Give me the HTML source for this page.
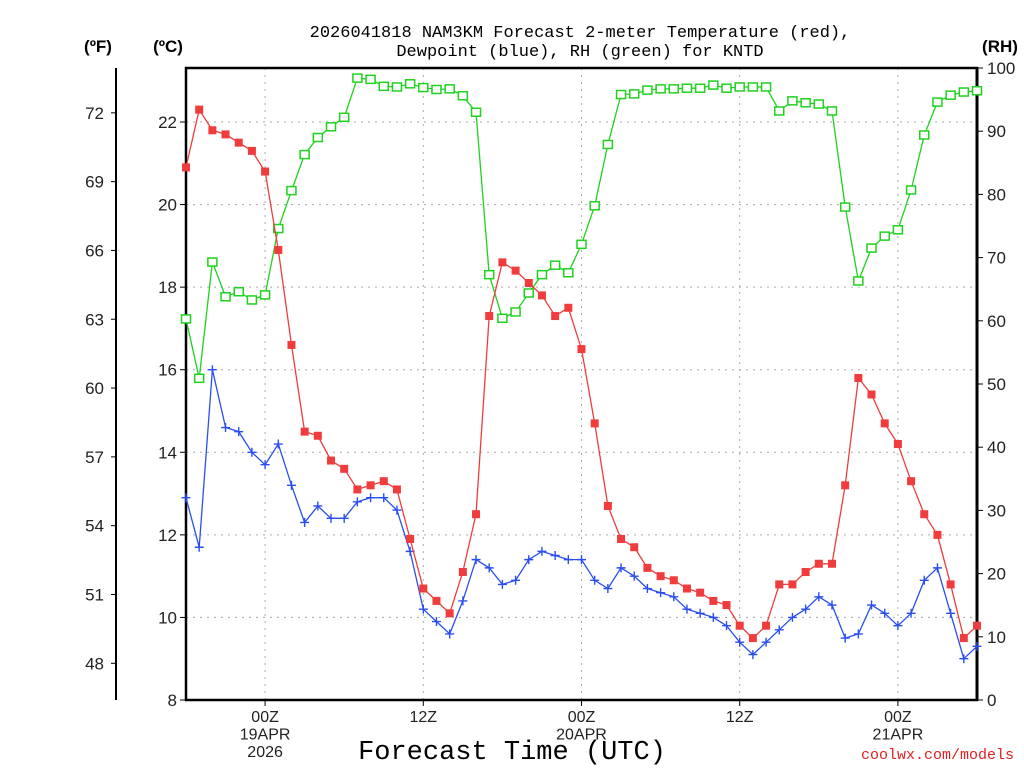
<!DOCTYPE html>
<html><head><meta charset="utf-8"><style>
body{margin:0;background:#fff;}
svg{display:block;}
text{font-family:"Liberation Sans",sans-serif;}
</style></head><body>
<svg id="chart" width="1024" height="768" xmlns="http://www.w3.org/2000/svg">
<rect width="1024" height="768" fill="#fff"/>
<text x="580" y="37" text-anchor="middle" style="font-family:'Liberation Mono',monospace;font-size:17px">2026041818 NAM3KM Forecast 2-meter Temperature (red),</text>
<text x="580" y="56" text-anchor="middle" style="font-family:'Liberation Mono',monospace;font-size:17px">Dewpoint (blue), RH (green) for KNTD</text>
<text x="98" y="52" text-anchor="middle" font-weight="bold" font-size="17">(ºF)</text>
<text x="168" y="52" text-anchor="middle" font-weight="bold" font-size="17">(ºC)</text>
<text x="1000" y="52" text-anchor="middle" font-weight="bold" font-size="17">(RH)</text>
<g id="grid"></g>
<g id="axes"></g>
<g id="series"></g>
<text x="512" y="759" text-anchor="middle" style="font-family:'Liberation Mono',monospace;font-size:27px;">Forecast Time (UTC)</text>
<text x="1014" y="759" text-anchor="end" fill="#e02020" style="font-family:'Liberation Mono',monospace;font-size:15px">coolwx.com/models</text>
</svg>
<script>
const hours = [0,1,2,3,4,5,6,7,8,9,10,11,12,13,14,15,16,17,18,19,20,21,22,23,24,25,26,27,28,29,30,31,32,33,34,35,36,37,38,39,40,41,42,43,44,45,46,47,48,49,50,51,52,53,54,55,56,57,58,59,60];
const tempC = [20.9,22.3,21.8,21.7,21.5,21.3,20.8,18.9,16.6,14.5,14.4,13.8,13.6,13.1,13.2,13.3,13.1,11.9,10.7,10.4,10.1,11.1,12.5,17.3,18.6,18.4,18.1,17.8,17.3,17.5,16.5,14.7,12.7,11.9,11.7,11.2,11.0,10.9,10.7,10.6,10.4,10.3,9.8,9.5,9.8,10.8,10.8,11.1,11.3,11.3,13.2,15.8,15.4,14.7,14.2,13.3,12.5,12.0,10.8,9.5,9.8];
const dewC = [12.9,11.7,16.0,14.6,14.5,14.0,13.7,14.2,13.2,12.3,12.7,12.4,12.4,12.8,12.9,12.9,12.6,11.6,10.2,9.9,9.6,10.4,11.4,11.2,10.8,10.9,11.4,11.6,11.5,11.4,11.4,10.9,10.7,11.2,11.0,10.7,10.6,10.5,10.2,10.1,10.0,9.8,9.4,9.1,9.4,9.7,10.0,10.2,10.5,10.3,9.5,9.6,10.3,10.1,9.8,10.1,10.9,11.2,10.1,9.0,9.3];
const rh = [60.3,50.9,69.3,63.8,64.6,63.3,64.1,74.6,80.6,86.3,89.0,90.7,92.2,98.4,98.2,97.1,97.0,97.5,96.9,96.6,96.7,95.6,93.0,67.3,60.4,61.4,64.4,67.3,68.8,67.6,72.1,78.2,87.9,95.8,95.9,96.5,96.7,96.7,96.8,96.8,97.3,96.8,97.0,97.0,97.0,93.2,94.8,94.5,94.3,93.2,78.0,66.3,71.5,73.4,74.4,80.7,89.4,94.6,95.7,96.2,96.4];
const cTicks = [8,10,12,14,16,18,20,22];
const fTicks = [48,51,54,57,60,63,66,69,72];
const rhTicks = [0,10,20,30,40,50,60,70,80,90,100];
const timeTicks = [6,18,30,42,54];
const timeLabels = [["00Z","19APR","2026"],["12Z"],["00Z","20APR"],["12Z"],["00Z","21APR"]];

const L=186,R=977,T=68,B=700;
const xS = h => L + (h-0)/60*(R-L);
const yC = c => B - (c-8)/14*(B-122);
const yF = f => yC((f-32)*5/9);
const yRH = v => B - v/100*(B-T);
const NS="http://www.w3.org/2000/svg";
function mk(parent,tag,attrs){const e=document.createElementNS(NS,tag);for(const k in attrs)e.setAttribute(k,attrs[k]);parent.appendChild(e);return e;}
const grid=document.getElementById('grid'), axes=document.getElementById('axes'), ser=document.getElementById('series');

cTicks.forEach(c=>{
  const y=yC(c);
  if(c>8){const g=mk(grid,'line',{x1:L,x2:R,y1:y,y2:y,stroke:'#aaa','stroke-dasharray':'2,5'});
  
  }
  mk(axes,'line',{x1:L-6,x2:L,y1:y,y2:y,stroke:'#000'});
  const t=mk(axes,'text',{x:L-9,y:y+6,'text-anchor':'end','font-size':17,fill:'#222'});t.textContent=c;
  
  
});
timeTicks.forEach((h,i)=>{
  const x=xS(h);
  const g=mk(grid,'line',{x1:x,x2:x,y1:T,y2:B,stroke:'#aaa','stroke-dasharray':'2,5'});
  
  
  mk(axes,'line',{x1:x,x2:x,y1:B,y2:B+6,stroke:'#000'});
  timeLabels[i].forEach((s,j)=>{
    const t=mk(axes,'text',{x:x,y:B+22+j*17.5,'text-anchor':'middle','font-size':16,fill:'#222'});t.textContent=s;
    
    
  });
});
fTicks.forEach(f=>{
  const y=yF(f);
  mk(axes,'line',{x1:111,x2:116,y1:y,y2:y,stroke:'#000'});
  const t=mk(axes,'text',{x:104,y:y+6,'text-anchor':'end','font-size':17,fill:'#222'});t.textContent=f;
  
  
});
rhTicks.forEach(v=>{
  const y=yRH(v);
  mk(axes,'line',{x1:R,x2:R+6,y1:y,y2:y,stroke:'#000'});
  const t=mk(axes,'text',{x:R+10,y:y+6,'font-size':17,fill:'#222'});t.textContent=v;
  
  
});
mk(axes,'line',{x1:116,x2:116,y1:T,y2:B,stroke:'#000','stroke-width':2});
mk(axes,'rect',{x:L,y:T,width:R-L,height:B-T,fill:'none',stroke:'#000','stroke-width':2.5});
mk(axes,'line',{x1:R,x2:R,y1:T,y2:B,stroke:'#000','stroke-width':3});

function series(vals,yf,color,kind,name){
  const g=mk(ser,'g',{});
  
  
  const pts=vals.map((v,i)=>xS(hours[i]).toFixed(1)+','+yf(v).toFixed(1)).join(' ');
  mk(g,'polyline',{points:pts,fill:'none',stroke:color,'stroke-width':1.3});
  vals.forEach((v,i)=>{
    const x=xS(hours[i]),y=yf(v);
    let m;
    if(kind==='fill') m=mk(g,'rect',{x:x-4,y:y-4,width:8,height:8,fill:color});
    else if(kind==='open') m=mk(g,'rect',{x:x-4.5,y:y-4,width:9,height:8,fill:'#fff',stroke:color,'stroke-width':1.5});
    else { m=mk(g,'path',{d:`M${x-4.5},${y}h9M${x},${y-4.5}v9`,stroke:color,'stroke-width':1.4}); }
    
    
  });
}
series(rh,yRH,'#1ed21e','open','rh-series');
series(dewC,yC,'#2a4ef0','plus','dewpoint-series');
series(tempC,yC,'#f03c3c','fill','temperature-series');
</script>
</body></html>
